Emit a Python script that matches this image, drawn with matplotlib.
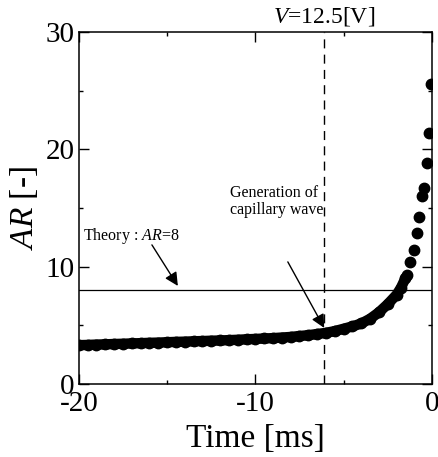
import numpy as np
import matplotlib
matplotlib.use('Agg')
import matplotlib.pyplot as plt
from matplotlib.ticker import MultipleLocator
import matplotlib.transforms as mtransforms

plt.rcParams['font.family'] = ['Liberation Serif', 'DejaVu Serif']
plt.rcParams['mathtext.fontset'] = 'custom'
plt.rcParams['mathtext.it'] = 'Liberation Serif:italic'
plt.rcParams['mathtext.rm'] = 'Liberation Serif'
plt.rcParams['axes.unicode_minus'] = False

# dense part of the record (markers overlap into a band)
t_dense = [-20, -19.5, -19, -18.5, -18, -17.5, -17, -16.5, -16, -15.5, -15,
           -14.5, -14, -13.5, -13, -12.5, -12, -11.5, -11, -10.5, -10,
           -9.5, -9, -8.5, -8, -7.5, -7, -6.5, -6, -5.5, -5, -4.5, -4,
           -3.5, -3, -2.5, -2, -1.75, -1.5]
ar_dense = [3.3, 3.32, 3.35, 3.37, 3.4, 3.42, 3.45, 3.47, 3.5, 3.52, 3.55,
            3.58, 3.6, 3.63, 3.65, 3.68, 3.7, 3.73, 3.76, 3.8, 3.83,
            3.87, 3.9, 3.95, 4.0, 4.08, 4.15, 4.25, 4.35, 4.5, 4.7, 4.9, 5.15,
            5.55, 6.1, 6.8, 7.6, 8.2, 9.0]
# last frames before pinch-off
t_tail = [-1.4, -1.25, -1.0, -0.85, -0.72, -0.57, -0.45, -0.3, -0.15, -0.03]
ar_tail = [9.3, 10.4, 11.4, 12.9, 14.2, 16.0, 16.7, 18.8, 21.4, 25.6]

ar_theory = 8
t_wave = -6.1

fig = plt.figure(figsize=(4.38, 4.57), dpi=100)
ax = fig.add_axes([0.180, 0.160, 0.806, 0.770])

ax.plot(t_dense, ar_dense, '-', color='black', lw=7.5, solid_capstyle='round', zorder=3)
ax.plot(t_dense + t_tail, ar_dense + ar_tail, 'o', color='black', ms=7.5, zorder=3)
ax.axhline(ar_theory, color='black', lw=0.9, zorder=2)
ax.axvline(t_wave, color='black', lw=1.0, dashes=(6.5, 4.5), zorder=2)

ax.set_xlim(-20, 0)
ax.set_ylim(0, 30)
ax.xaxis.set_major_locator(MultipleLocator(10))
ax.xaxis.set_minor_locator(MultipleLocator(5))
ax.yaxis.set_major_locator(MultipleLocator(10))
ax.yaxis.set_minor_locator(MultipleLocator(5))
ax.tick_params(which='both', direction='in', top=True, right=True, width=1.0, labelsize=21)
ax.tick_params(which='major', length=7, pad=3)
ax.tick_params(axis='x', which='major', pad=5)
ax.tick_params(which='minor', length=3)
for s in ax.spines.values():
    s.set_linewidth(1.1)

ax.set_xlabel('Time [ms]', fontsize=24, labelpad=5)
ax.set_ylabel(r'$AR$ [-]', fontsize=24)
ax.yaxis.set_label_coords(-0.11, 0.5)

trans = mtransforms.blended_transform_factory(ax.transData, ax.transAxes)
ax.text(t_wave, 1.012, r'$V$=12.5[V]', transform=trans, ha='center', va='bottom', fontsize=17)

arrow = dict(arrowstyle='-|>', color='black', lw=1.0, mutation_scale=20, shrinkA=0, shrinkB=0)

ax.text(-19.75, 12.3, r'Theory : $AR$=8', fontsize=11.5, ha='left', va='baseline')
ax.annotate('', xy=(-14.39, 8.35), xytext=(-15.86, 11.85), arrowprops=arrow)

ax.text(-11.45, 14.45, 'Generation of\ncapillary wave', fontsize=11.5, ha='left', va='baseline',
        linespacing=1.15)
ax.annotate('', xy=(t_wave, 4.77), xytext=(-8.16, 10.4), arrowprops=arrow)

fig.savefig('out.png', dpi=100)
